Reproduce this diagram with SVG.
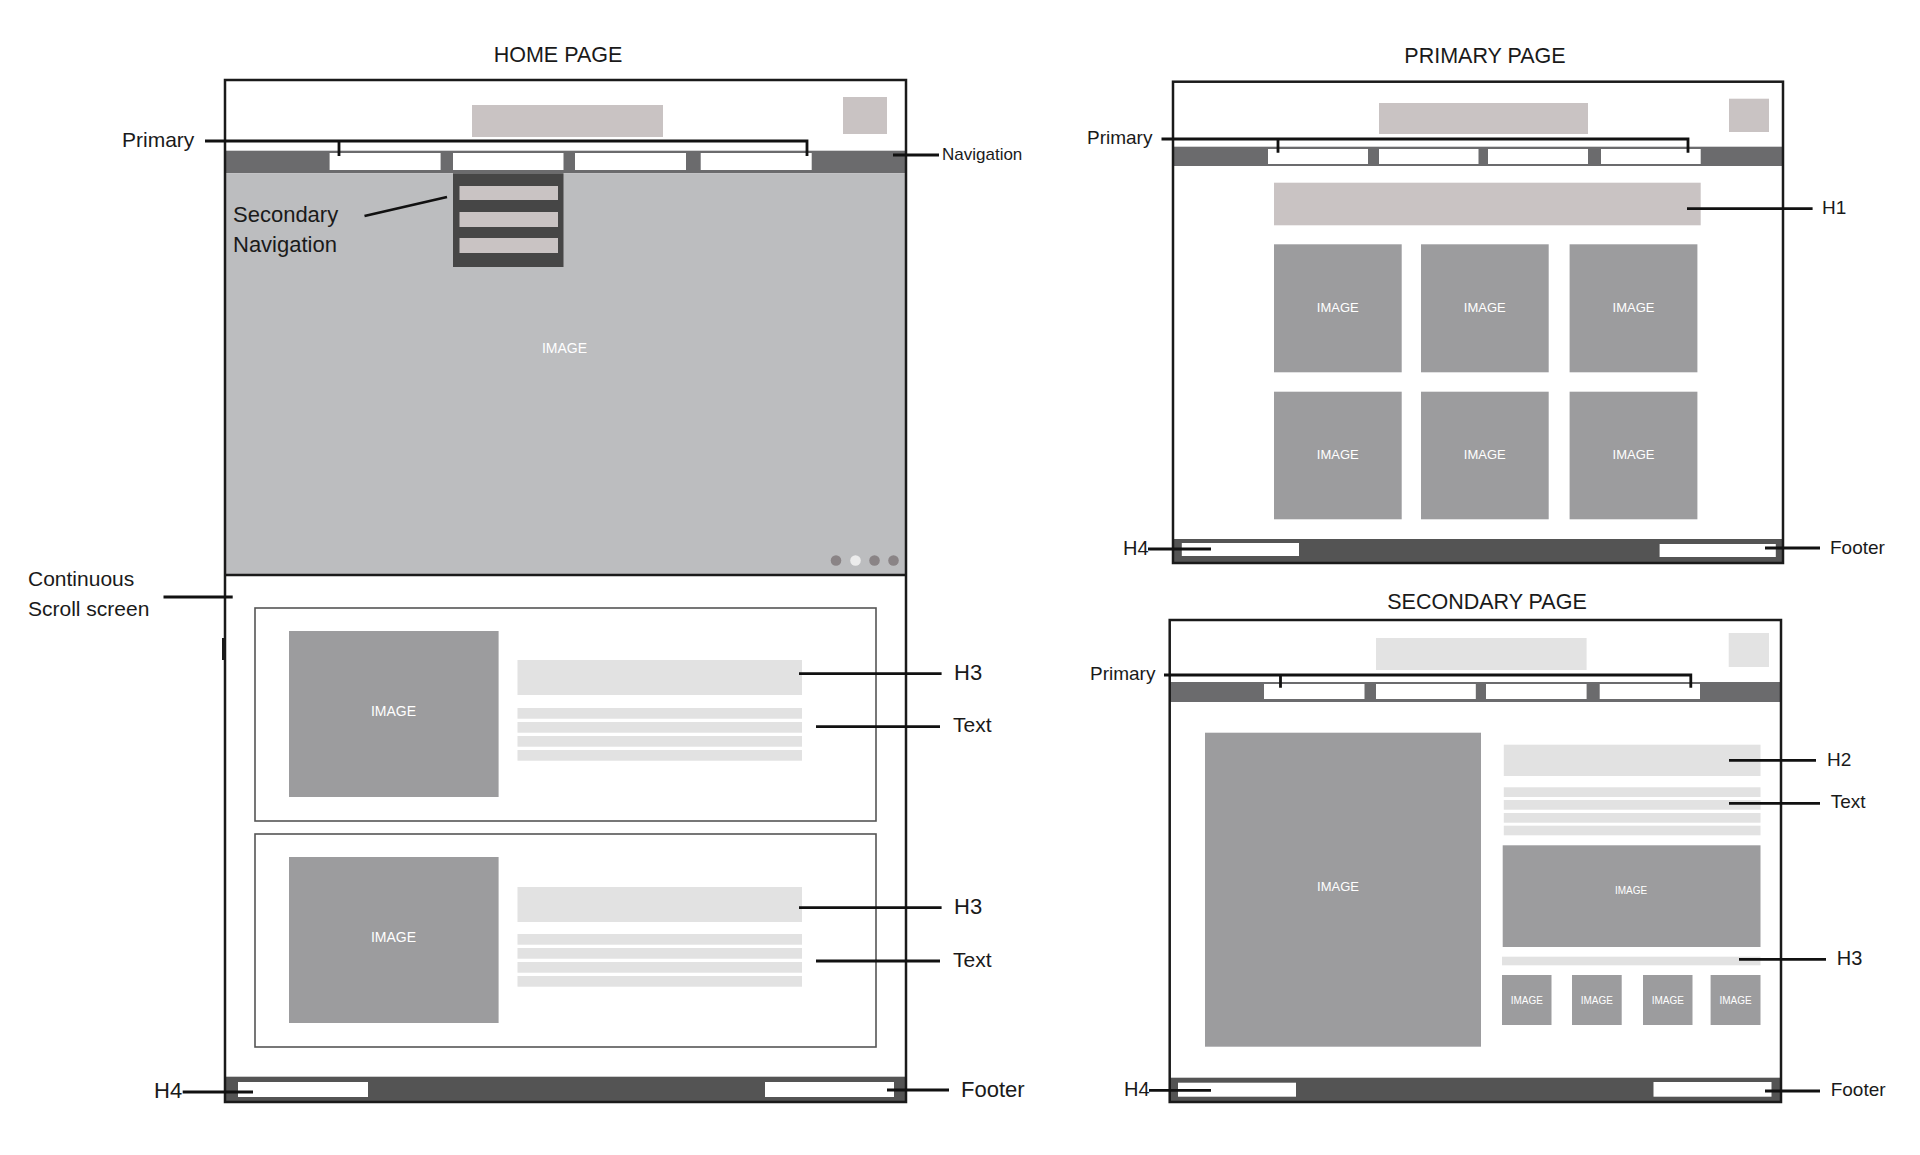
<svg xmlns="http://www.w3.org/2000/svg" width="1920" height="1155" viewBox="0 0 1920 1155">
<style>
text{font-family:"Liberation Sans",Arial,sans-serif;fill:#1a1a1a}
.title{font-size:21.5px;text-anchor:middle}
.lbl{font-size:21px}
.lbl2{font-size:19px}
.img{fill:#9c9c9e}
.imgt{fill:#ffffff;text-anchor:middle;dominant-baseline:central}
.frame{fill:none;stroke:#1a1a1a;stroke-width:2.5}
.nav{fill:#6b6b6d}
.navi{fill:#ffffff}
.logo{fill:#c9c3c3}
.logo2{fill:#e3e3e3}
.bar{fill:#e2e2e2}
.foot{fill:#545454}
.box{fill:none;stroke:#555;stroke-width:1.6}
.conn path{fill:none;stroke:#111;stroke-width:2.8}
</style>
<rect width="1920" height="1155" fill="#ffffff"/>

<g id="home-page">
<text class="title" x="558" y="62">HOME PAGE</text>
<rect x="225" y="80" width="681" height="1022" fill="#ffffff"/>
<rect class="logo" x="472" y="105" width="191" height="32"/>
<rect class="logo" x="843" y="97" width="44" height="37"/>
<rect class="nav" x="225" y="150.7" width="681" height="22.6"/>
<rect class="navi" x="329.6" y="153" width="111" height="17"/>
<rect class="navi" x="453" y="153" width="110.5" height="17"/>
<rect class="navi" x="575" y="153" width="111" height="17"/>
<rect class="navi" x="700.7" y="153" width="111" height="17"/>
<rect id="home-hero" x="225" y="173.3" width="681" height="401.7" fill="#bcbdbf"/>
<text class="imgt" x="564.5" y="348" font-size="14">IMAGE</text>
<g id="home-dropdown">
<rect x="453" y="173.3" width="110.5" height="93.7" fill="#464646"/>
<rect class="logo" x="459.5" y="186" width="98.5" height="14"/>
<rect class="logo" x="459.5" y="212" width="98.5" height="15"/>
<rect class="logo" x="459.5" y="238" width="98.5" height="15"/>
</g>
<circle cx="836" cy="560.5" r="5.3" fill="#8a8486"/>
<circle cx="855.5" cy="560.5" r="5.3" fill="#ececec"/>
<circle cx="874.5" cy="560.5" r="5.3" fill="#8a8486"/>
<circle cx="893.5" cy="560.5" r="5.3" fill="#8a8486"/>
<line x1="225" y1="575" x2="906" y2="575" stroke="#1a1a1a" stroke-width="2.5"/>
<g id="home-card-1">
<rect class="box" x="255" y="608" width="621" height="213"/>
<rect class="img" x="289" y="631" width="209.6" height="166"/>
<text class="imgt" x="393.5" y="711" font-size="14">IMAGE</text>
<rect class="bar" x="517.5" y="660" width="284.5" height="35"/>
<rect class="bar" x="517.5" y="708" width="284.5" height="10.7"/>
<rect class="bar" x="517.5" y="722" width="284.5" height="10.7"/>
<rect class="bar" x="517.5" y="736" width="284.5" height="10.7"/>
<rect class="bar" x="517.5" y="750" width="284.5" height="10.7"/>
</g>
<g id="home-card-2">
<rect class="box" x="255" y="834" width="621" height="213"/>
<rect class="img" x="289" y="857" width="209.6" height="166"/>
<text class="imgt" x="393.5" y="937" font-size="14">IMAGE</text>
<rect class="bar" x="517.5" y="887" width="284.5" height="35"/>
<rect class="bar" x="517.5" y="934" width="284.5" height="10.7"/>
<rect class="bar" x="517.5" y="948" width="284.5" height="10.7"/>
<rect class="bar" x="517.5" y="962" width="284.5" height="10.7"/>
<rect class="bar" x="517.5" y="976" width="284.5" height="10.7"/>
</g>
<rect class="foot" x="225" y="1076.7" width="681" height="25.3"/>
<rect class="navi" x="238" y="1082" width="130" height="15"/>
<rect class="navi" x="765" y="1082" width="129" height="15"/>
<rect class="frame" x="225" y="80" width="681" height="1022"/>
<line x1="223.5" y1="638" x2="223.5" y2="660" stroke="#1a1a1a" stroke-width="3"/>
<text class="lbl" x="122" y="146.5">Primary</text>
<text x="942" y="160" font-size="17">Navigation</text>
<text x="233" y="221.5" font-size="22">Secondary</text>
<text x="233" y="251.5" font-size="22">Navigation</text>
<text class="lbl" x="28" y="585.5">Continuous</text>
<text class="lbl" x="28" y="615.5">Scroll screen</text>
<text x="954" y="679.6" font-size="22">H3</text>
<text class="lbl" x="953" y="732">Text</text>
<text x="954" y="913.6" font-size="22">H3</text>
<text class="lbl" x="953" y="966.5">Text</text>
<text x="154" y="1098" font-size="22">H4</text>
<text x="961" y="1096.5" font-size="22">Footer</text>
</g>

<g id="primary-page">
<text class="title" x="1485" y="63">PRIMARY PAGE</text>
<rect x="1173" y="81.7" width="610" height="481.3" fill="#ffffff"/>
<rect class="logo" x="1379" y="103" width="209" height="31"/>
<rect class="logo" x="1729" y="98.7" width="40" height="33.3"/>
<rect class="nav" x="1173" y="146.7" width="610" height="19.3"/>
<rect class="navi" x="1268" y="149" width="100" height="15"/>
<rect class="navi" x="1379" y="149" width="99.5" height="15"/>
<rect class="navi" x="1488" y="149" width="100" height="15"/>
<rect class="navi" x="1601" y="149" width="99.7" height="15"/>
<rect class="logo" x="1274" y="182.7" width="426.7" height="42.6"/>
<rect class="img" x="1274" y="244.3" width="127.7" height="128"/>
<rect class="img" x="1421" y="244.3" width="127.7" height="128"/>
<rect class="img" x="1569.6" y="244.3" width="127.8" height="128"/>
<rect class="img" x="1274" y="391.7" width="127.7" height="127.6"/>
<rect class="img" x="1421" y="391.7" width="127.7" height="127.6"/>
<rect class="img" x="1569.6" y="391.7" width="127.8" height="127.6"/>
<text class="imgt" x="1337.8" y="307" font-size="13">IMAGE</text>
<text class="imgt" x="1484.8" y="307" font-size="13">IMAGE</text>
<text class="imgt" x="1633.5" y="307" font-size="13">IMAGE</text>
<text class="imgt" x="1337.8" y="454.5" font-size="13">IMAGE</text>
<text class="imgt" x="1484.8" y="454.5" font-size="13">IMAGE</text>
<text class="imgt" x="1633.5" y="454.5" font-size="13">IMAGE</text>
<rect class="foot" x="1173" y="539" width="610" height="24"/>
<rect class="navi" x="1181.8" y="543" width="117.2" height="13"/>
<rect class="navi" x="1659.6" y="544" width="116.2" height="13"/>
<rect class="frame" x="1173" y="81.7" width="610" height="481.3"/>
<text class="lbl2" x="1087" y="144">Primary</text>
<text class="lbl2" x="1822" y="214">H1</text>
<text x="1123" y="554.5" font-size="20">H4</text>
<text class="lbl2" x="1830" y="553.5">Footer</text>
</g>

<g id="secondary-page">
<text class="title" x="1487" y="609">SECONDARY PAGE</text>
<rect x="1169.7" y="620" width="611.3" height="482" fill="#ffffff"/>
<rect class="logo2" x="1376" y="638" width="210.6" height="32"/>
<rect class="logo2" x="1728.7" y="633" width="40.3" height="34"/>
<rect class="nav" x="1169.7" y="682" width="611.3" height="20"/>
<rect class="navi" x="1264" y="684" width="100.5" height="15"/>
<rect class="navi" x="1376" y="684" width="99.8" height="15"/>
<rect class="navi" x="1486" y="684" width="100.6" height="15"/>
<rect class="navi" x="1599.7" y="684" width="100.3" height="15"/>
<rect class="img" x="1205" y="732.7" width="276" height="314"/>
<text class="imgt" x="1338" y="886" font-size="13">IMAGE</text>
<rect class="bar" x="1503.8" y="744.7" width="256.7" height="31.3"/>
<rect class="bar" x="1503.8" y="787.3" width="256.7" height="9.7"/>
<rect class="bar" x="1503.8" y="800" width="256.7" height="9.7"/>
<rect class="bar" x="1503.8" y="813" width="256.7" height="9.7"/>
<rect class="bar" x="1503.8" y="825.7" width="256.7" height="9.6"/>
<rect class="img" x="1502.7" y="845.3" width="257.8" height="101.7"/>
<text class="imgt" x="1631" y="890" font-size="10">IMAGE</text>
<rect class="bar" x="1502" y="956.7" width="258.5" height="8.6"/>
<rect class="img" x="1502" y="975" width="49.5" height="50"/>
<rect class="img" x="1572" y="975" width="49.7" height="50"/>
<rect class="img" x="1643" y="975" width="49.5" height="50"/>
<rect class="img" x="1710.6" y="975" width="49.9" height="50"/>
<text class="imgt" x="1526.8" y="1000" font-size="10">IMAGE</text>
<text class="imgt" x="1596.8" y="1000" font-size="10">IMAGE</text>
<text class="imgt" x="1667.8" y="1000" font-size="10">IMAGE</text>
<text class="imgt" x="1735.5" y="1000" font-size="10">IMAGE</text>
<rect class="foot" x="1169.7" y="1077.7" width="611.3" height="24.3"/>
<rect class="navi" x="1178" y="1082.7" width="118" height="14"/>
<rect class="navi" x="1653.5" y="1082" width="118" height="14.7"/>
<rect class="frame" x="1169.7" y="620" width="611.3" height="482"/>
<text class="lbl2" x="1090" y="679.5">Primary</text>
<text class="lbl2" x="1827" y="765.5">H2</text>
<text class="lbl2" x="1830.7" y="808">Text</text>
<text x="1836.7" y="964.5" font-size="20">H3</text>
<text x="1124" y="1095.5" font-size="20">H4</text>
<text class="lbl2" x="1830.7" y="1096">Footer</text>
</g>

<g id="connectors" class="conn">
<path d="M205 141 H807 V156 M339 141 V156"/>
<path d="M893 155 H939"/>
<path d="M364.5 216 L447 197"/>
<path d="M163.5 597 H232.7"/>
<path d="M799 673.7 H941.6"/>
<path d="M816 726.7 H940"/>
<path d="M799 907.7 H941.6"/>
<path d="M816 961 H940"/>
<path d="M182.7 1092 H253"/>
<path d="M887 1090 H949"/>
<path d="M1161.5 139 H1688 V152.7 M1278 139 V152.7"/>
<path d="M1687 208.7 H1812.6"/>
<path d="M1148 549 H1211"/>
<path d="M1765 548 H1820"/>
<path d="M1164 675 H1690.8 V687.7 M1280.5 675 V687.7"/>
<path d="M1729 760.3 H1816"/>
<path d="M1729 803.3 H1820"/>
<path d="M1739 959.3 H1826"/>
<path d="M1149 1090.3 H1211"/>
<path d="M1765 1091 H1820"/>
</g>
</svg>
